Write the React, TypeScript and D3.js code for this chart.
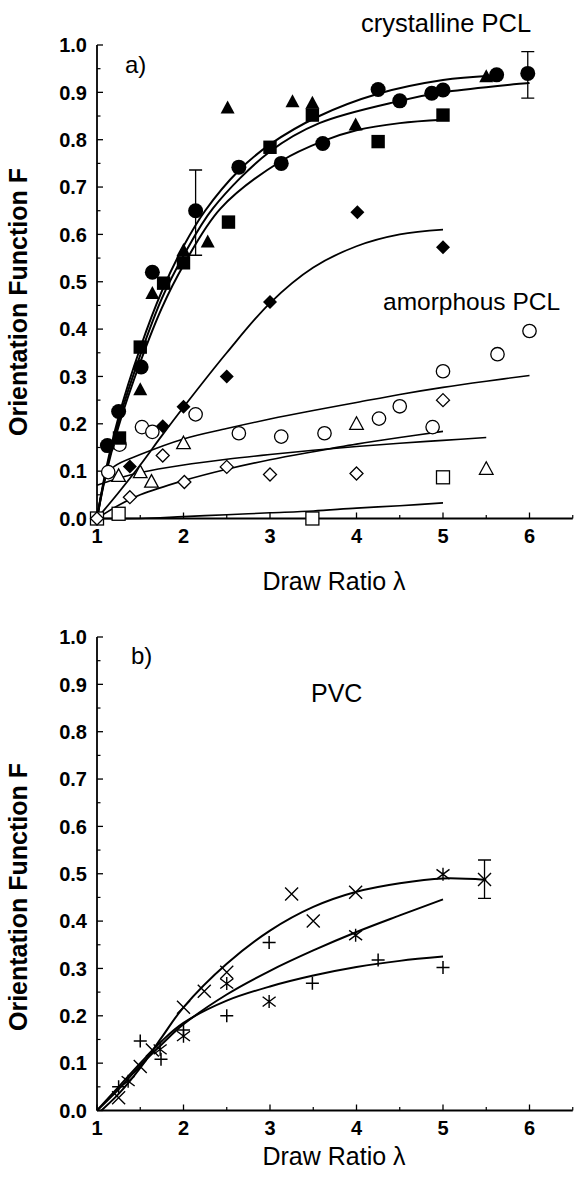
import React from 'react';
import * as d3 from 'd3';

type P = [number, number];

// ---------- axis ticks ----------
const xMajorTicks = [1, 2, 3, 4, 5, 6];
const xMinorTicks = [1.5, 2.5, 3.5, 4.5, 5.5, 6.5];
const yMajorTicks = [0, 0.1, 0.2, 0.3, 0.4, 0.5, 0.6, 0.7, 0.8, 0.9, 1.0];
const yMinorTicks = [0.05, 0.15, 0.25, 0.35, 0.45, 0.55, 0.65, 0.75, 0.85, 0.95];
const yTickLabels = ['0.0', '0.1', '0.2', '0.3', '0.4', '0.5', '0.6', '0.7', '0.8', '0.9', '1.0'];
const xTickLabels = ['1', '2', '3', '4', '5', '6'];

// ---------- panel a: crystalline PCL (filled symbols) ----------
const crystCircles: P[] = [
  [1.12, 0.154], [1.25, 0.226], [1.51, 0.32], [1.64, 0.52], [2.14, 0.65], [2.64, 0.742],
  [3.13, 0.75], [3.61, 0.792], [4.25, 0.906], [4.5, 0.882], [4.87, 0.898], [5.0, 0.905],
  [5.62, 0.937], [5.98, 0.94],
];
const crystSquares: P[] = [
  [1.26, 0.17], [1.5, 0.362], [1.77, 0.497], [2.0, 0.54], [2.52, 0.626], [3.0, 0.784],
  [3.49, 0.852], [4.25, 0.796], [5.0, 0.852],
];
const crystTriangles: P[] = [
  [1.5, 0.272], [1.64, 0.475], [2.0, 0.566], [2.28, 0.584], [2.51, 0.867], [3.26, 0.88],
  [3.49, 0.877], [3.99, 0.831], [5.5, 0.933],
];
const crystDiamonds: P[] = [
  [1.38, 0.11], [1.76, 0.195], [2.0, 0.236], [2.5, 0.30], [3.0, 0.457], [4.01, 0.647], [5.0, 0.573],
];
// [lambda, F, low, high]
const crystErrorBars: [number, number, number, number][] = [
  [2.14, 0.65, 0.556, 0.736],
  [5.98, 0.94, 0.888, 0.986],
];

// ---------- panel a: amorphous PCL (open symbols) ----------
const amorCircles: P[] = [
  [1.13, 0.098], [1.26, 0.156], [1.52, 0.193], [1.64, 0.183], [2.14, 0.22], [2.64, 0.18],
  [3.13, 0.173], [3.63, 0.18], [4.26, 0.211], [4.5, 0.237], [4.88, 0.193], [5.0, 0.311],
  [5.63, 0.347], [6.0, 0.396],
];
const amorTriangles: P[] = [
  [1.25, 0.09], [1.5, 0.098], [1.63, 0.078], [2.0, 0.159], [4.0, 0.2], [5.5, 0.105],
];
const amorDiamonds: P[] = [
  [1.0, 0.0], [1.38, 0.045], [1.76, 0.133], [2.01, 0.077], [2.5, 0.109], [3.0, 0.093],
  [4.0, 0.095], [5.0, 0.25],
];
const amorSquares: P[] = [[1.0, 0.0], [1.25, 0.01], [3.49, 0.0], [5.0, 0.087]];

// ---------- panel a: fitted curves ----------
const fitCrystA: P[] = [
  [1, 0], [1.1, 0.1], [1.25, 0.215], [1.5, 0.36], [1.75, 0.48], [2.0, 0.575], [2.25, 0.65],
  [2.64, 0.735], [3.0, 0.79], [3.57, 0.85], [4.25, 0.897], [5.0, 0.926], [5.55, 0.935],
];
const fitCrystB: P[] = [
  [1, 0], [1.1, 0.095], [1.25, 0.205], [1.5, 0.345], [1.75, 0.465], [2.0, 0.555], [2.34, 0.655],
  [3.0, 0.775], [3.57, 0.835], [4.5, 0.882], [5.0, 0.9], [6.0, 0.92],
];
const fitCrystC: P[] = [
  [1, 0], [1.1, 0.09], [1.25, 0.195], [1.5, 0.33], [1.75, 0.445], [2.0, 0.535], [2.43, 0.655],
  [3.13, 0.755], [3.61, 0.797], [4.0, 0.82], [4.5, 0.835], [5.0, 0.842],
];
const fitCrystD: P[] = [
  [1, 0], [1.25, 0.055], [1.5, 0.113], [1.75, 0.175], [2.0, 0.235], [2.5, 0.35], [3.0, 0.455],
  [3.5, 0.53], [4.0, 0.575], [4.5, 0.6], [5.0, 0.61],
];
const fitAmorE: P[] = [
  [1, 0], [1.1, 0.085], [1.2, 0.11], [1.5, 0.135], [2.0, 0.168], [2.5, 0.19], [3.0, 0.21],
  [3.5, 0.228], [4.0, 0.245], [4.5, 0.262], [5.0, 0.277], [5.5, 0.29], [6.0, 0.302],
];
const fitAmorF: P[] = [
  [1.0, 0.07], [1.25, 0.085], [1.5, 0.097], [2.0, 0.113], [2.5, 0.125], [3.0, 0.135], [3.5, 0.144],
  [4.0, 0.152], [4.5, 0.159], [5.0, 0.165], [5.5, 0.171],
];
const fitAmorG: P[] = [
  [1, 0], [1.25, 0.028], [1.5, 0.05], [2.0, 0.08], [2.5, 0.104], [3.0, 0.124], [3.5, 0.141],
  [4.0, 0.157], [4.5, 0.171], [5.0, 0.184],
];
const fitAmorH: P[] = [
  [1, 0], [1.5, 0.0], [2.0, 0.004], [2.5, 0.008], [3.0, 0.012], [3.5, 0.016], [4.0, 0.022],
  [4.5, 0.027], [5.0, 0.033],
];

// ---------- panel b: PVC ----------
const pvcTimes: P[] = [
  [1.25, 0.027], [1.5, 0.093], [1.64, 0.128], [2.0, 0.218], [2.24, 0.252], [2.5, 0.292],
  [3.25, 0.457], [3.5, 0.40], [3.99, 0.461], [5.48, 0.488],
];
const pvcAsterisks: P[] = [
  [1.36, 0.062], [1.73, 0.129], [2.0, 0.157], [2.5, 0.268], [2.99, 0.23], [3.99, 0.37], [5.0, 0.499],
];
const pvcPlus: P[] = [
  [1.25, 0.05], [1.5, 0.147], [1.74, 0.108], [2.0, 0.17], [2.5, 0.2], [2.99, 0.355], [3.49, 0.269],
  [4.25, 0.318], [5.0, 0.302],
];
const pvcErrorBars: [number, number, number, number][] = [[5.48, 0.488, 0.448, 0.529]];
const fitPvcTop: P[] = [
  [1.05, 0], [1.25, 0.035], [1.5, 0.09], [1.75, 0.155], [2.0, 0.218], [2.5, 0.31], [3.0, 0.38],
  [3.5, 0.43], [4.0, 0.462], [4.5, 0.48], [5.0, 0.49], [5.5, 0.487],
];
const fitPvcMid: P[] = [
  [1.0, 0], [1.25, 0.045], [1.5, 0.095], [1.75, 0.14], [2.0, 0.182], [2.5, 0.245], [3.0, 0.295],
  [3.5, 0.338], [4.0, 0.377], [4.5, 0.412], [5.0, 0.446],
];
const fitPvcLow: P[] = [
  [1.0, 0], [1.25, 0.05], [1.5, 0.1], [1.75, 0.147], [2.0, 0.185], [2.5, 0.232], [3.0, 0.262],
  [3.5, 0.285], [4.0, 0.303], [4.5, 0.316], [5.0, 0.325],
];

const FONT = '"Liberation Sans", Arial, Helvetica, sans-serif';

type Shape =
  | 'fcircle' | 'fsquare' | 'ftri' | 'fdiamond'
  | 'ocircle' | 'osquare' | 'otri' | 'odiamond'
  | 'times' | 'plus' | 'asterisk';

function Marker({ shape, cx, cy }: { shape: Shape; cx: number; cy: number }) {
  const s = 6.5;
  switch (shape) {
    case 'fcircle':
      return <circle cx={cx} cy={cy} r={7.5} fill="#000" />;
    case 'ocircle':
      return <circle cx={cx} cy={cy} r={6.7} fill="#fff" stroke="#000" strokeWidth={1.3} />;
    case 'fsquare':
      return <rect x={cx - 6.7} y={cy - 6.7} width={13.4} height={13.4} fill="#000" />;
    case 'osquare':
      return <rect x={cx - 6.5} y={cy - 6.5} width={13} height={13} fill="#fff" stroke="#000" strokeWidth={1.3} />;
    case 'ftri':
      return <path d={`M${cx},${cy - 7.5}L${cx + 7},${cy + 5.5}L${cx - 7},${cy + 5.5}Z`} fill="#000" />;
    case 'otri':
      return <path d={`M${cx},${cy - 7}L${cx + 6.8},${cy + 5.5}L${cx - 6.8},${cy + 5.5}Z`} fill="#fff" stroke="#000" strokeWidth={1.3} />;
    case 'fdiamond':
      return <path d={`M${cx},${cy - 7}L${cx + 7},${cy}L${cx},${cy + 7}L${cx - 7},${cy}Z`} fill="#000" />;
    case 'odiamond':
      return <path d={`M${cx},${cy - 6.5}L${cx + 6.5},${cy}L${cx},${cy + 6.5}L${cx - 6.5},${cy}Z`} fill="#fff" stroke="#000" strokeWidth={1.3} />;
    case 'times':
      return <path d={`M${cx - s},${cy - s}L${cx + s},${cy + s}M${cx + s},${cy - s}L${cx - s},${cy + s}`} stroke="#000" strokeWidth={1.4} fill="none" />;
    case 'plus':
      return <path d={`M${cx - s},${cy}L${cx + s},${cy}M${cx},${cy - s}L${cx},${cy + s}`} stroke="#000" strokeWidth={1.5} fill="none" />;
    case 'asterisk':
      return <path d={`M${cx - s},${cy - s * 0.75}L${cx + s},${cy + s * 0.75}M${cx + s},${cy - s * 0.75}L${cx - s},${cy + s * 0.75}M${cx},${cy - s}L${cx},${cy + s}`} stroke="#000" strokeWidth={1.4} fill="none" />;
  }
  return null;
}

function Axes({ x, y, labelBase, titleBase, yTitleEnd }: {
  x: d3.ScaleLinear<number, number>; y: d3.ScaleLinear<number, number>;
  labelBase: number; titleBase: number; yTitleEnd: number;
}) {
  const x0 = x(1);
  const y0 = y(0);
  return (
    <g>
      <line x1={x0} x2={x(6.5)} y1={y0} y2={y0} stroke="#000" strokeWidth={1.8} />
      <line x1={x0} x2={x0} y1={y(1)} y2={y0} stroke="#000" strokeWidth={1.8} />
      {xMajorTicks.map((t, i) => (
        <g key={'xt' + i}>
          <line x1={x(t)} x2={x(t)} y1={y0} y2={y0 - 6} stroke="#000" strokeWidth={1.3} />
          <text x={x(t)} y={labelBase} textAnchor="middle" fontFamily={FONT} fontWeight="bold" fontSize={20}>
            {xTickLabels[i]}
          </text>
        </g>
      ))}
      {xMinorTicks.map((t, i) => (
        <line key={'xm' + i} x1={x(t)} x2={x(t)} y1={y0} y2={y0 - 3.5} stroke="#000" strokeWidth={1.2} />
      ))}
      {yMajorTicks.map((t, i) => (
        <g key={'yt' + i}>
          <line x1={x0} x2={x0 + 6} y1={y(t)} y2={y(t)} stroke="#000" strokeWidth={1.3} />
          <text x={87} y={y(t)} dy="0.36em" textAnchor="end" fontFamily={FONT} fontWeight="bold" fontSize={20}>
            {yTickLabels[i]}
          </text>
        </g>
      ))}
      {yMinorTicks.map((t, i) => (
        <line key={'ym' + i} x1={x0} x2={x0 + 3.5} y1={y(t)} y2={y(t)} stroke="#000" strokeWidth={1.2} />
      ))}
      <text x={334} y={titleBase} textAnchor="middle" fontFamily={FONT} fontSize={25}>
        Draw Ratio λ
      </text>
      <text transform={`translate(27,${yTitleEnd}) rotate(-90)`} textAnchor="end" fontFamily={FONT} fontWeight="bold" fontSize={25}>
        Orientation Function F
      </text>
    </g>
  );
}

export default function App() {
  const x = d3.scaleLinear().domain([1, 6.5]).range([97, 97 + 5.5 * 86.5]);
  const ya = d3.scaleLinear().domain([0, 1]).range([518.5, 45]);
  const yb = d3.scaleLinear().domain([0, 1]).range([1110.5, 637]);
  const lineA = d3.line<P>().x(d => x(d[0])).y(d => ya(d[1])).curve(d3.curveCatmullRom.alpha(0.5));
  const lineB = d3.line<P>().x(d => x(d[0])).y(d => yb(d[1])).curve(d3.curveCatmullRom.alpha(0.5));

  const pts = (data: P[], shape: Shape, yS: d3.ScaleLinear<number, number>, key: string) =>
    data.map((d, i) => <Marker key={key + i} shape={shape} cx={x(d[0])} cy={yS(d[1])} />);

  const errBars = (data: [number, number, number, number][], yS: d3.ScaleLinear<number, number>, key: string) =>
    data.map((d, i) => {
      const cx = x(d[0]);
      return (
        <path key={key + i}
          d={`M${cx},${yS(d[2])}L${cx},${yS(d[3])}M${cx - 6.5},${yS(d[2])}L${cx + 6.5},${yS(d[2])}M${cx - 6.5},${yS(d[3])}L${cx + 6.5},${yS(d[3])}`}
          stroke="#000" strokeWidth={1.3} fill="none" />
      );
    });

  return (
    <svg width={577} height={1186} style={{ position: 'absolute', left: 0, top: 0, background: '#fff' }}>
      <rect x={0} y={0} width={577} height={1186} fill="#fff" />
      {/* ---------- panel a ---------- */}
      <Axes x={x} y={ya} labelBase={543} titleBase={590} yTitleEnd={168} />
      <text x={361} y={32} fontFamily={FONT} fontSize={25.5}>crystalline PCL</text>
      <text x={125} y={73} fontFamily={FONT} fontSize={24}>a)</text>
      <text x={383} y={310} fontFamily={FONT} fontSize={24.5}>amorphous PCL</text>

      {[fitAmorE, fitAmorF, fitAmorG, fitAmorH].map((d, i) => (
        <path key={'fa' + i} d={lineA(d) || ''} fill="none" stroke="#000" strokeWidth={1.6} />
      ))}
      {[fitCrystD].map((d, i) => (
        <path key={'fd' + i} d={lineA(d) || ''} fill="none" stroke="#000" strokeWidth={1.8} />
      ))}
      {[fitCrystA, fitCrystB, fitCrystC].map((d, i) => (
        <path key={'fc' + i} d={lineA(d) || ''} fill="none" stroke="#000" strokeWidth={2} />
      ))}
      {errBars(crystErrorBars, ya, 'ea')}
      {pts(amorSquares, 'osquare', ya, 'as')}
      {pts(amorDiamonds, 'odiamond', ya, 'ad')}
      {pts(amorTriangles, 'otri', ya, 'at')}
      {pts(amorCircles, 'ocircle', ya, 'ac')}
      {pts(crystDiamonds, 'fdiamond', ya, 'cd')}
      {pts(crystTriangles, 'ftri', ya, 'ct')}
      {pts(crystSquares, 'fsquare', ya, 'cs')}
      {pts(crystCircles, 'fcircle', ya, 'cc')}

      {/* ---------- panel b ---------- */}
      <Axes x={x} y={yb} labelBase={1135} titleBase={1165} yTitleEnd={763} />
      <text x={131} y={664} fontFamily={FONT} fontSize={24}>b)</text>
      <text x={311} y={702} fontFamily={FONT} fontSize={25}>PVC</text>
      {[fitPvcTop, fitPvcMid, fitPvcLow].map((d, i) => (
        <path key={'fp' + i} d={lineB(d) || ''} fill="none" stroke="#000" strokeWidth={2} />
      ))}
      {errBars(pvcErrorBars, yb, 'eb')}
      {pts(pvcTimes, 'times', yb, 'pt')}
      {pts(pvcAsterisks, 'asterisk', yb, 'pa')}
      {pts(pvcPlus, 'plus', yb, 'pp')}
    </svg>
  );
}
